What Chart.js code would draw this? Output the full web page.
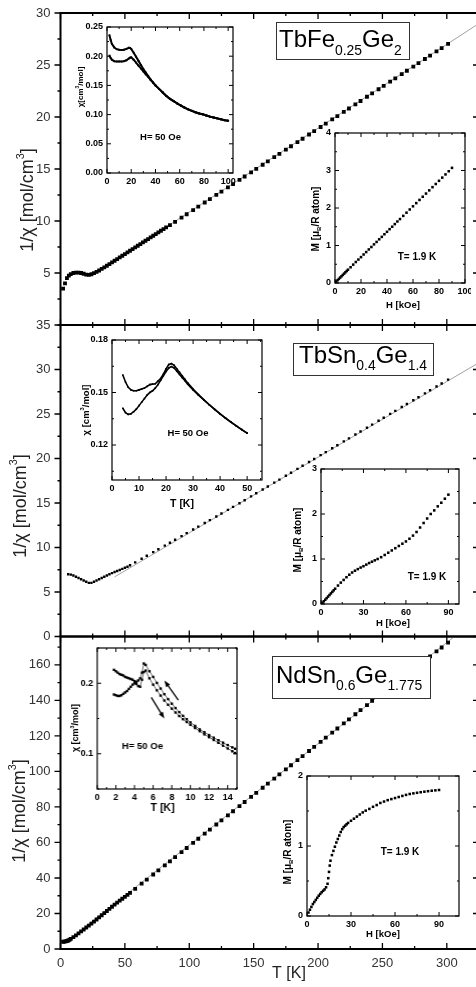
<!DOCTYPE html>
<html>
<head>
<meta charset="utf-8">
<script src="https://cdn.jsdelivr.net/npm/chart.js@4.4.1/dist/chart.umd.min.js"></script>
<style>
  body { margin: 0; background: #fff; overflow: hidden; }
  #wrap { position: relative; width: 476px; height: 987px; overflow: hidden; background: #fff; }
  canvas { position: absolute; }
</style>
</head>
<body>
<div id="wrap"></div>
<script>
// ---- main panels: 1/chi vs T ----
const mainX = [0, 50, 100, 150, 200, 250, 300];
const mainY1 = [5, 10, 15, 20, 25, 30];
const mainY2 = [0, 5, 10, 15, 20, 25, 30, 35];
const mainY3 = [0, 20, 40, 60, 80, 100, 120, 140, 160];

// sparse temperature grid above the dense low-T part
const tHigh = [54, 58, 63, 67, 72, 76, 81, 85, 89, 94, 98, 103, 107, 112, 116, 121, 125, 130, 134, 139,
  143, 148, 152, 157, 161, 166, 170, 175, 179, 184, 188, 193, 197, 202, 206, 211, 215, 220, 224, 229,
  233, 238, 242, 247, 251, 256, 260, 265, 269, 274, 278, 283, 287, 292, 296, 301];

// TbFe0.25Ge2
const t1Low = [2, 3.5, 5, 6.5, 8, 10, 12, 14, 16, 18, 20, 22, 24, 26, 28, 30, 32, 34, 36, 38, 40, 42, 44,
  46, 48, 50, 52, 54, 56, 58, 60, 62, 64, 66, 68, 70, 72, 74, 76, 78, 80, 82];
const inv1Low = [3.5, 4.0, 4.5, 4.75, 4.9, 5.0, 5.03, 5.03, 5.0, 4.93, 4.85, 4.82, 4.88, 4.98, 5.1, 5.24,
  5.39, 5.54, 5.7, 5.86, 6.02, 6.18, 6.34, 6.5, 6.66, 6.82, 6.98, 7.14, 7.3, 7.46, 7.62, 7.78, 7.94, 8.1,
  8.26, 8.42, 8.58, 8.74, 8.9, 9.06, 9.22, 9.38];
const inv1High = [9.6, 9.92, 10.33, 10.65, 11.05, 11.38, 11.78, 12.1, 12.51, 12.83, 13.23, 13.55, 13.96,
  14.28, 14.68, 15.01, 15.41, 15.73, 16.14, 16.46, 16.86, 17.19, 17.59, 17.91, 18.32, 18.64, 19.04, 19.37,
  19.77, 20.09, 20.49, 20.82, 21.22, 21.54, 21.95, 22.27, 22.67, 23.0, 23.4, 23.72, 24.13, 24.45, 24.85,
  25.18, 25.58, 25.9, 26.31, 26.63, 27.03];
const fitT1 = [30, 330], fit1 = [5.22, 29.4];

// TbSn0.4Ge1.4
const t2Low = [6, 8, 10, 12, 14, 16, 18, 20, 22, 24, 26, 28, 30, 32, 34, 36, 38, 40, 42, 44, 46, 48, 50, 52];
const inv2Low = [7.0, 6.95, 6.85, 6.72, 6.58, 6.44, 6.3, 6.15, 6.03, 6.02, 6.15, 6.3, 6.44, 6.58, 6.72,
  6.86, 7.0, 7.12, 7.24, 7.36, 7.48, 7.6, 7.72, 7.84];
const inv2High = [8.0, 8.33, 8.74, 9.07, 9.48, 9.8, 10.21, 10.54, 10.87, 11.28, 11.61, 12.02, 12.35, 12.76,
  13.08, 13.49, 13.82, 14.23, 14.56, 14.97, 15.31, 15.74, 16.09, 16.52, 16.86, 17.29, 17.63, 18.06, 18.4,
  18.83, 19.18, 19.6, 19.95, 20.38, 20.72, 21.15, 21.49, 21.92, 22.26, 22.69, 23.04, 23.46, 23.81, 24.24,
  24.58, 25.01, 25.35, 25.78, 26.12, 26.55, 26.89, 27.32, 27.66, 28.09, 28.43, 28.86];
const fitT2 = [42, 330], fit2 = [6.7, 31.2];

// NdSn0.6Ge1.775
const t3Low = [2, 3, 4, 5, 6, 7, 8, 10, 12, 14, 16, 18, 20, 22, 24, 26, 28, 30, 32, 34, 36, 38, 40, 42,
  44, 46, 48, 50, 52];
const inv3Low = [4.1, 4.2, 4.3, 4.5, 4.8, 5.2, 5.7, 6.7, 7.7, 8.8, 9.9, 11.0, 12.1, 13.2, 14.3, 15.4, 16.6,
  17.8, 19.0, 20.2, 21.4, 22.6, 23.8, 25.0, 26.1, 27.2, 28.3, 29.4, 30.5];
const inv3High = [31.6, 33.9, 36.8, 39.1, 41.95, 44.25, 47.1, 49.4, 51.7, 54.6, 56.9, 59.8, 62.1, 64.95,
  67.25, 70.1, 72.4, 75.3, 77.6, 80.5, 82.8, 85.65, 87.95, 90.8, 93.1, 96.0, 98.3, 101.2, 103.5, 106.35,
  108.65, 111.5, 113.8, 116.7, 119.0, 121.9, 124.2, 127.05, 129.35, 132.2, 134.5, 137.4, 139.7, 142.6,
  144.8, 147.6, 149.8, 152.6, 154.8, 157.6, 159.8, 162.6, 164.8, 167.6, 169.8, 172.6];
const fitT3 = [20, 330], fit3 = [13.0, 189.7];

// ---- insets: chi vs T (ZFC / FC) ----
const chiT1 = [2, 3, 4, 6, 8, 10, 12, 14, 16, 18, 19, 20, 22, 24, 26, 28, 30, 32, 34, 36, 38, 40, 43, 46,
  49, 52, 55, 58, 61, 64, 67, 70, 73, 76, 79, 82, 85, 88, 91, 94, 97, 100];
const chiFC1 = [0.236, 0.228, 0.221, 0.215, 0.212, 0.211, 0.2105, 0.211, 0.2125, 0.2145, 0.214, 0.2125,
  0.206, 0.199, 0.192, 0.185, 0.178, 0.172, 0.166, 0.16, 0.155, 0.15, 0.144, 0.138, 0.132, 0.127, 0.123,
  0.119, 0.1155, 0.112, 0.109, 0.1065, 0.104, 0.102, 0.1005, 0.0985, 0.0965, 0.095, 0.0935, 0.092, 0.0905, 0.0895];
const chiZFC1 = [0.201, 0.197, 0.194, 0.1915, 0.191, 0.191, 0.191, 0.1915, 0.193, 0.196, 0.1975, 0.198,
  0.194, 0.189, 0.184, 0.179, 0.174, 0.169, 0.1645, 0.1595, 0.1548, 0.15, 0.144, 0.138, 0.132, 0.127, 0.123,
  0.119, 0.1155, 0.112, 0.109, 0.1065, 0.104, 0.102, 0.1005, 0.0985, 0.0965, 0.095, 0.0935, 0.092, 0.0905, 0.0895];

const chiT2 = [4, 5, 6, 7, 8, 9, 10, 11, 12, 13, 14, 15, 16, 17, 18, 19, 20, 21, 22, 23, 24, 25, 26, 27, 28,
  30, 32, 34, 36, 38, 40, 42, 44, 46, 48, 50];
const chiFC2 = [0.16, 0.156, 0.153, 0.1515, 0.151, 0.151, 0.1515, 0.152, 0.1525, 0.1535, 0.1545, 0.1548,
  0.155, 0.1565, 0.158, 0.1605, 0.1635, 0.166, 0.1665, 0.1655, 0.1635, 0.1615, 0.1595, 0.1575, 0.1555,
  0.152, 0.1488, 0.1458, 0.143, 0.1403, 0.1378, 0.1354, 0.1331, 0.1309, 0.1288, 0.1268];
const chiZFC2 = [0.141, 0.1385, 0.1375, 0.1378, 0.139, 0.1405, 0.1425, 0.1445, 0.1465, 0.1485, 0.15, 0.151,
  0.1525, 0.1545, 0.157, 0.1595, 0.162, 0.164, 0.1648, 0.164, 0.1622, 0.1603, 0.1585, 0.1567, 0.1548,
  0.1515, 0.1485, 0.1458, 0.143, 0.1403, 0.1378, 0.1354, 0.1331, 0.1309, 0.1288, 0.1268];

const chiT3 = [1.8, 2.0, 2.2, 2.4, 2.6, 2.8, 3.0, 3.2, 3.4, 3.6, 3.8, 4.0, 4.2, 4.4, 4.6, 4.8, 5.0, 5.2,
  5.6, 6.0, 6.4, 6.8, 7.2, 7.6, 8.0, 8.4, 8.8, 9.2, 9.6, 10.0, 10.5, 11.0, 11.5, 12.0, 12.5, 13.0, 13.5,
  14.0, 14.5, 14.8];
const chiA3 = [0.184, 0.183, 0.182, 0.182, 0.183, 0.185, 0.187, 0.189, 0.192, 0.195, 0.198, 0.2, 0.202,
  0.204, 0.207, 0.215, 0.228, 0.226, 0.217, 0.209, 0.2005, 0.1925, 0.1845, 0.1775, 0.171, 0.1648, 0.159,
  0.1538, 0.149, 0.1445, 0.1395, 0.1345, 0.1305, 0.1265, 0.1228, 0.1192, 0.1157, 0.1123, 0.109, 0.107];
const chiB3 = [0.219, 0.217, 0.215, 0.213, 0.212, 0.211, 0.209, 0.208, 0.207, 0.206, 0.205, 0.203, 0.199,
  0.196, 0.195, 0.205, 0.216, 0.218, 0.207, 0.198, 0.19, 0.1825, 0.1755, 0.1695, 0.164, 0.1585, 0.1535,
  0.149, 0.145, 0.141, 0.1365, 0.132, 0.1275, 0.1235, 0.1195, 0.1155, 0.1115, 0.1075, 0.1035, 0.101];

// ---- insets: M vs H at 1.9 K ----
const hM1 = [0, 1, 2, 3, 4, 5, 6, 7, 8, 9, 10, 12, 14, 16, 18, 20, 22, 24, 26, 28, 30, 32, 34, 36, 38, 40,
  42, 44, 46, 48, 50, 52.5, 55, 57.5, 60, 62.5, 65, 67.5, 70, 72.5, 75, 77.5, 80, 82.5, 85, 87.5, 90];
const m1 = [0, 0.04, 0.075, 0.11, 0.145, 0.18, 0.215, 0.25, 0.285, 0.32, 0.355, 0.42, 0.49, 0.56, 0.625,
  0.69, 0.76, 0.825, 0.895, 0.96, 1.03, 1.095, 1.165, 1.23, 1.3, 1.365, 1.435, 1.5, 1.57, 1.64, 1.705,
  1.79, 1.875, 1.96, 2.045, 2.13, 2.215, 2.3, 2.385, 2.47, 2.555, 2.64, 2.725, 2.81, 2.895, 2.98, 3.07];
const hM2 = [0, 1, 2, 3, 4, 5, 6, 7, 8, 9, 10, 12, 14, 16, 18, 20, 22, 24, 26, 28, 30, 32, 34, 36, 38, 40,
  42.5, 45, 47.5, 50, 52.5, 55, 57.5, 60, 62.5, 65, 67.5, 70, 72.5, 75, 77.5, 80, 82.5, 85, 87.5, 90];
const m2 = [0, 0.03, 0.06, 0.095, 0.13, 0.165, 0.2, 0.235, 0.27, 0.305, 0.34, 0.41, 0.475, 0.535, 0.595,
  0.65, 0.7, 0.74, 0.775, 0.81, 0.84, 0.875, 0.91, 0.94, 0.97, 1.0, 1.04, 1.09, 1.14, 1.19, 1.24, 1.29,
  1.34, 1.39, 1.45, 1.52, 1.6, 1.7, 1.8, 1.9, 2.0, 2.08, 2.17, 2.25, 2.34, 2.43];
const hM3 = [0, 1, 2, 3, 4, 5, 6, 7, 8, 9, 10, 11, 12, 13, 14, 14.5, 15, 15.5, 16, 17, 18, 19, 20, 21, 22,
  23, 24, 25, 26, 27, 28, 30, 32, 34, 36, 38, 40, 42.5, 45, 47.5, 50, 52.5, 55, 57.5, 60, 62.5, 65, 67.5,
  70, 72.5, 75, 77.5, 80, 82.5, 85, 87.5, 90];
const m3 = [0, 0.05, 0.09, 0.13, 0.17, 0.2, 0.23, 0.26, 0.29, 0.315, 0.34, 0.36, 0.38, 0.41, 0.46, 0.54,
  0.63, 0.72, 0.79, 0.87, 0.93, 0.99, 1.05, 1.1, 1.15, 1.2, 1.24, 1.27, 1.29, 1.31, 1.33, 1.36, 1.39, 1.42,
  1.45, 1.48, 1.505, 1.53, 1.56, 1.585, 1.615, 1.635, 1.655, 1.67, 1.685, 1.7, 1.715, 1.73, 1.743, 1.752,
  1.76, 1.768, 1.776, 1.783, 1.79, 1.795, 1.8];

// ---- helpers ----
const FONT = '"Liberation Sans", Arial, sans-serif';
Chart.defaults.font.family = FONT;
Chart.defaults.color = '#000';
const wrap = document.getElementById('wrap');

function place(l, t, w, h) {
  const c = document.createElement('canvas');
  c.width = w; c.height = h;
  c.style.left = l + 'px'; c.style.top = t + 'px';
  c.style.width = w + 'px'; c.style.height = h + 'px';
  wrap.appendChild(c);
  return c;
}

const pts = (xs, ys) => xs.map((x, i) => ({ x: x, y: ys[i] }));

function rich(ctx, parts, x, y, size, bold, align, subR) {
  const r = subR || 0.6;
  const fnt = s => (bold ? 'bold ' : '') + s + 'px ' + FONT;
  let w = 0;
  const segs = parts.map(p => {
    const k = p[1] || '';
    const s = k ? size * r : size;
    ctx.font = fnt(s);
    const m = ctx.measureText(p[0]).width;
    w += m;
    return { t: p[0], k: k, s: s, m: m };
  });
  let cx = align === 'center' ? x - w / 2 : x;
  ctx.textAlign = 'left';
  segs.forEach(g => {
    ctx.font = fnt(g.s);
    const dy = g.k === 'sub' ? size * 0.3 : g.k === 'sup' ? -size * 0.38 : 0;
    ctx.fillText(g.t, cx, y + dy);
    cx += g.m;
  });
}

function marks(scale, major, step) {
  const out = [];
  for (let i = Math.ceil(scale.min / step - 1e-6); i * step <= scale.max + 1e-9; i++) {
    const v = i * step;
    out.push([scale.getPixelForValue(v), major.some(m => Math.abs(m - v) < step * 0.1)]);
  }
  return out;
}

// frame + inward/outward tick marks
function framePlugin(f) {
  return {
    id: 'frame',
    beforeDatasetsDraw(chart) {
      if (!f.fill) return;
      const a = chart.chartArea, ctx = chart.ctx;
      ctx.save();
      ctx.fillStyle = '#fff';
      ctx.fillRect(a.left, a.top, a.right - a.left, a.bottom - a.top);
      ctx.restore();
    },
    afterDatasetsDraw(chart) {
      const { ctx, chartArea: a, scales: { x, y } } = chart;
      ctx.save();
      ctx.strokeStyle = '#000';
      ctx.lineWidth = f.tlw;
      ctx.beginPath();
      marks(x, f.xMajor, f.xMinor).forEach(([p, big]) => {
        const len = big ? f.maj : f.min;
        ctx.moveTo(p, a.bottom); ctx.lineTo(p, a.bottom - len);
        ctx.moveTo(p, a.top); ctx.lineTo(p, a.top + len);
      });
      marks(y, f.yMajor, f.yMinor).forEach(([p, big]) => {
        const len = big ? f.maj : f.min;
        ctx.moveTo(a.left, p); ctx.lineTo(f.leftOut ? a.left - len : a.left + len, p);
        ctx.moveTo(a.right, p); ctx.lineTo(a.right - len, p);
      });
      ctx.stroke();
      ctx.lineWidth = f.lw;
      ctx.strokeRect(a.left, a.top, a.right - a.left, a.bottom - a.top);
      ctx.restore();
    }
  };
}

// text labels (page coordinates) and arrows (data coordinates)
function notesPlugin(items) {
  return {
    id: 'notes',
    afterDraw(chart) {
      const ctx = chart.ctx;
      const ox = parseFloat(chart.canvas.style.left), oy = parseFloat(chart.canvas.style.top);
      items.forEach(it => {
        ctx.save();
        ctx.fillStyle = '#000';
        ctx.strokeStyle = '#000';
        if (it.arrow) {
          const sx = chart.scales.x, sy = chart.scales.y;
          const x1 = sx.getPixelForValue(it.arrow[0]), y1 = sy.getPixelForValue(it.arrow[1]);
          const x2 = sx.getPixelForValue(it.arrow[2]), y2 = sy.getPixelForValue(it.arrow[3]);
          const ang = Math.atan2(y2 - y1, x2 - x1);
          ctx.lineWidth = 1.3;
          ctx.beginPath(); ctx.moveTo(x1, y1); ctx.lineTo(x2 - 4 * Math.cos(ang), y2 - 4 * Math.sin(ang)); ctx.stroke();
          ctx.beginPath();
          ctx.moveTo(x2, y2);
          ctx.lineTo(x2 - 7 * Math.cos(ang - 0.35), y2 - 7 * Math.sin(ang - 0.35));
          ctx.lineTo(x2 - 7 * Math.cos(ang + 0.35), y2 - 7 * Math.sin(ang + 0.35));
          ctx.closePath(); ctx.fill();
        } else {
          if (it.box) {
            const b = it.box;
            ctx.fillStyle = '#fff';
            ctx.fillRect(b[0] - ox, b[1] - oy, b[2] - b[0], b[3] - b[1]);
            ctx.lineWidth = 1;
            ctx.strokeStyle = '#333';
            ctx.strokeRect(b[0] - ox + 0.5, b[1] - oy + 0.5, b[2] - b[0], b[3] - b[1]);
          }
          ctx.fillStyle = it.color || '#000';
          ctx.textBaseline = it.base || 'middle';
          ctx.translate(it.x - ox, it.y - oy);
          if (it.rot) ctx.rotate(-Math.PI / 2);
          rich(ctx, it.parts, 0, 0, it.size, it.bold, it.align || 'center', it.subR);
        }
        ctx.restore();
      });
    }
  };
}

function axis(min, max, list, dec, horiz, size, o) {
  const shown = o.display !== false;
  return {
    type: 'linear', min: min, max: max, display: shown,
    grid: { display: false, drawTicks: false }, border: { display: false },
    afterBuildTicks: s => { s.ticks = list.map(v => ({ value: v })); },
    afterFit: s => {
      if (horiz) s.height = shown ? size : 0; else s.width = size;
      // keep the plot box where it is set, not pushed by label overhang
      s.paddingTop = 0; s.paddingBottom = 0; s.paddingLeft = 0; s.paddingRight = 0;
    },
    ticks: {
      autoSkip: false, maxRotation: 0, padding: o.pad, color: o.color || '#000',
      font: { size: o.font, weight: o.bold ? 'bold' : 'normal' },
      callback: v => Number(v).toFixed(dec)
    }
  };
}

const sq = (data, r) => ({ data: data, pointStyle: 'rect', pointRadius: r, backgroundColor: '#000',
  borderWidth: 0, showLine: false, order: 1 });
const fitLine = data => ({ data: data, showLine: true, pointRadius: 0, borderColor: '#8a8a8a',
  borderWidth: 0.8, order: 2 });
const curve = (data, r, lw) => ({ data: data, pointStyle: 'rect', pointRadius: r, backgroundColor: '#000',
  pointBorderWidth: 0, borderColor: '#000', borderWidth: lw, showLine: true, order: 1 });

function mainPanel(p) {
  const c = place(0, p.top, 490, p.height);
  return new Chart(c, {
    type: 'scatter',
    data: { datasets: p.datasets },
    options: {
      responsive: false, animation: false, devicePixelRatio: 1,
      layout: { padding: { top: p.padTop, bottom: p.padBottom, left: 0, right: 11 } },
      plugins: { legend: { display: false }, tooltip: { enabled: false } },
      scales: {
        x: axis(0, 325, mainX, 0, true, 38, { display: p.showX, pad: 7, font: 13, color: '#333' }),
        y: axis(0, p.yMax, p.yTicks, 0, false, 60.5, { pad: 10, font: 13, color: '#333' })
      }
    },
    plugins: [
      framePlugin({ xMajor: mainX, xMinor: 25, yMajor: p.yTicks, yMinor: p.yMinor,
        maj: 6, min: 3, lw: 2, tlw: 1.3, leftOut: true }),
      notesPlugin(p.notes)
    ]
  });
}

function insetPanel(p) {
  const L = 42, T = 6, R = 6, B = 34;
  const a = p.area;
  const c = place(a[0] - L, a[1] - T, a[2] - a[0] + L + R, a[3] - a[1] + T + B);
  return new Chart(c, {
    type: 'scatter',
    data: { datasets: p.datasets },
    options: {
      responsive: false, animation: false, devicePixelRatio: 1,
      layout: { padding: { top: T, bottom: 0, left: 0, right: R } },
      plugins: { legend: { display: false }, tooltip: { enabled: false } },
      scales: {
        x: axis(p.x[0], p.x[1], p.xTicks, p.xDec || 0, true, B, { pad: 3, font: 9, bold: true }),
        y: axis(p.y[0], p.y[1], p.yTicks, p.yDec || 0, false, L, { pad: 4, font: 9, bold: true })
      }
    },
    plugins: [
      framePlugin({ xMajor: p.xTicks, xMinor: p.xMinor, yMajor: p.yTicks, yMinor: p.yMinor,
        maj: 4, min: 2, lw: 1.2, tlw: 1, leftOut: false, fill: true }),
      notesPlugin(p.notes)
    ]
  });
}

const yTitle = (x, y) => ({ x: x, y: y, rot: true, size: 18, color: '#222',
  parts: [['1/\u03c7 [mol/cm'], ['3', 'sup'], [']']] });
const chiTitle = (x, y, size, txt) => ({ x: x, y: y, rot: true, size: size, bold: true,
  parts: [[txt], ['3', 'sup'], ['/mol]']] });
const mTitle = (x, y) => ({ x: x, y: y, rot: true, size: 10, bold: true,
  parts: [['M [\u03bc'], ['B', 'sub'], ['/R atom]']] });
const label = (x, y, size, txt) => ({ x: x, y: y, size: size, bold: true, parts: [[txt]] });
const formula = (box, x, y, parts) => ({ box: box, x: x, y: y, size: 24, subR: 0.58, base: 'alphabetic',
  align: 'left', parts: parts });

// ---- main panels ----
mainPanel({
  top: 0, height: 330, padTop: 13, padBottom: 5, showX: false, yMax: 30, yTicks: mainY1, yMinor: 2.5,
  datasets: [
    sq(pts(t1Low.concat(tHigh.slice(7)), inv1Low.concat(inv1High)), 2.7),
    fitLine(pts(fitT1, fit1))
  ],
  notes: [
    yTitle(28, 200),
    formula([276, 22, 409, 59], 279, 47.3, [['TbFe'], ['0.25', 'sub'], ['Ge'], ['2', 'sub']])
  ]
});

mainPanel({
  top: 320, height: 322, padTop: 5, padBottom: 5.5, showX: false, yMax: 35, yTicks: mainY2, yMinor: 2.5,
  datasets: [
    sq(pts(t2Low.concat(tHigh), inv2Low.concat(inv2High)), 1.7),
    fitLine(pts(fitT2, fit2))
  ],
  notes: [
    yTitle(21, 506),
    formula([293, 343, 433, 375], 299, 363, [['TbSn'], ['0.4', 'sub'], ['Ge'], ['1.4', 'sub']])
  ]
});

mainPanel({
  top: 631, height: 356, padTop: 5.5, padBottom: 0, showX: true, yMax: 176, yTicks: mainY3, yMinor: 10,
  datasets: [
    sq(pts(t3Low.concat(tHigh), inv3Low.concat(inv3High)), 2.7),
    fitLine(pts(fitT3, fit3))
  ],
  notes: [
    yTitle(20, 811),
    formula([272, 656, 430, 698], 276, 683, [['NdSn'], ['0.6', 'sub'], ['Ge'], ['1.775', 'sub']]),
    { x: 289, y: 974, size: 16, color: '#222', parts: [['T [K]']] }
  ]
});

// ---- insets ----
insetPanel({
  area: [106.5, 27, 233, 173.3], x: [0, 104], y: [0, 0.25],
  xTicks: [0, 20, 40, 60, 80, 100], xMinor: 10,
  yTicks: [0, 0.05, 0.1, 0.15, 0.2, 0.25], yMinor: 0.025, yDec: 2,
  datasets: [curve(pts(chiT1, chiFC1), 1.3, 2), curve(pts(chiT1, chiZFC1), 1.3, 2)],
  notes: [chiTitle(80, 87, 8, '\u03c7[cm'), label(160, 137, 9.5, 'H= 50 Oe')]
});

insetPanel({
  area: [335, 133, 465, 283], x: [0, 100], y: [0, 4],
  xTicks: [0, 20, 40, 60, 80, 100], xMinor: 10, yTicks: [0, 1, 2, 3, 4], yMinor: 0.5,
  datasets: [sq(pts(hM1, m1), 1.8)],
  notes: [mTitle(316, 219), label(417, 257, 10, 'T= 1.9 K'), label(403, 305, 9.5, 'H [kOe]')]
});

insetPanel({
  area: [112, 340, 262, 480], x: [0, 55.5], y: [0.10, 0.18],
  xTicks: [0, 10, 20, 30, 40, 50], xMinor: 5, yTicks: [0.12, 0.15, 0.18], yMinor: 0.015, yDec: 2,
  datasets: [curve(pts(chiT2, chiFC2), 1.1, 1.6), curve(pts(chiT2, chiZFC2), 1.1, 1.6)],
  notes: [chiTitle(86, 410, 9.5, '\u03c7 [cm'), label(188, 433, 9.5, 'H= 50 Oe'), label(182, 504, 10.5, 'T [K]')]
});

insetPanel({
  area: [321, 469, 459, 604], x: [0, 97.5], y: [0, 3],
  xTicks: [0, 30, 60, 90], xMinor: 15, yTicks: [0, 1, 2, 3], yMinor: 0.5,
  datasets: [sq(pts(hM2, m2), 1.8)],
  notes: [mTitle(298, 540), label(427, 577, 10, 'T= 1.9 K'), label(393, 623, 9.5, 'H [kOe]')]
});

insetPanel({
  area: [97, 648, 236.5, 789], x: [0, 15], y: [0.05, 0.25],
  xTicks: [0, 2, 4, 6, 8, 10, 12, 14], xMinor: 1, yTicks: [0.1, 0.2], yMinor: 0.05, yDec: 1,
  datasets: [curve(pts(chiT3, chiA3), 1.7, 0.6), curve(pts(chiT3, chiB3), 1.7, 0.6)],
  notes: [
    chiTitle(76, 728, 9, '\u03c7 [cm'), label(142, 746, 9.5, 'H= 50 Oe'), label(162, 808, 10.5, 'T [K]'),
    { arrow: [8.7, 0.176, 7.2, 0.204] },
    { arrow: [5.8, 0.18, 7.2, 0.15] }
  ]
});

insetPanel({
  area: [307, 776, 459, 916], x: [0, 103.6], y: [0, 2],
  xTicks: [0, 30, 60, 90], xMinor: 15, yTicks: [0, 1, 2], yMinor: 0.5,
  datasets: [sq(pts(hM3, m3), 1.8)],
  notes: [mTitle(288, 852), label(400, 852, 10, 'T= 1.9 K'), label(383, 934, 9.5, 'H [kOe]')]
});
</script>
</body>
</html>
